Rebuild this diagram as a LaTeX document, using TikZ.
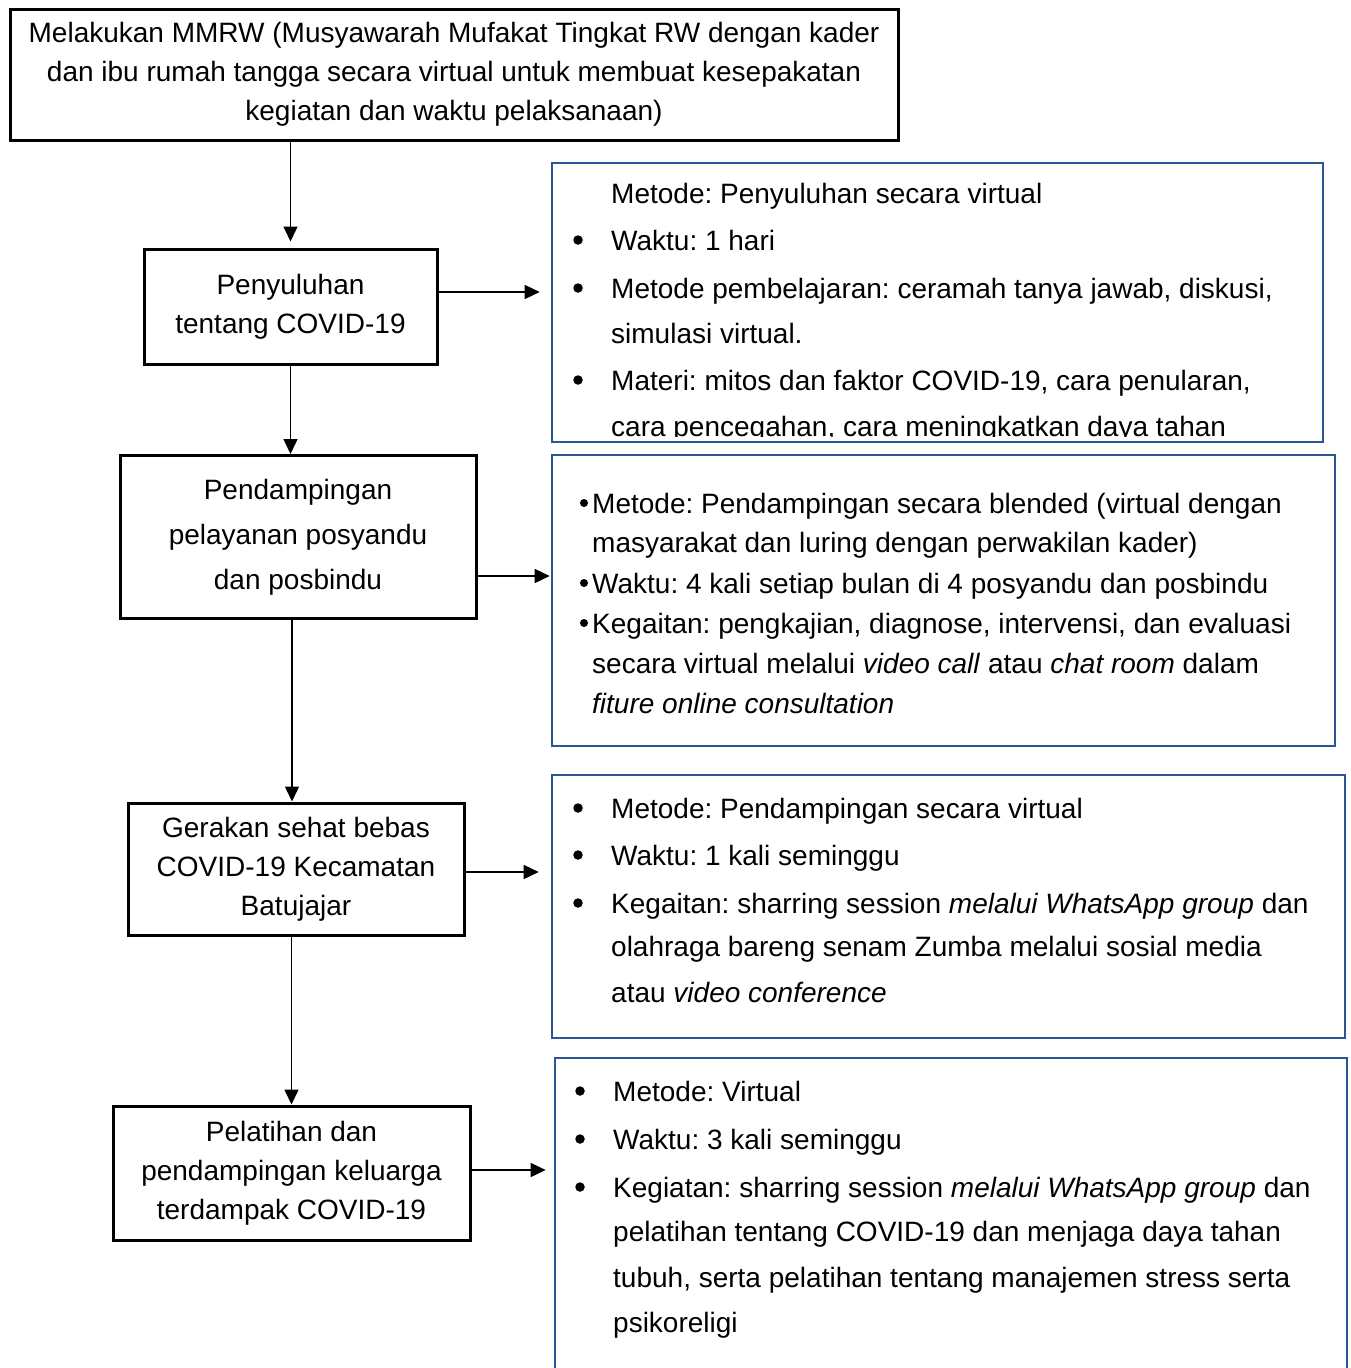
\documentclass[tikz,border=0pt]{standalone}
\usepackage{fontspec}
\setmainfont{Liberation Sans}
\usetikzlibrary{arrows.meta,calc}
\definecolor{boxblue}{RGB}{47,84,150}
\frenchspacing
\begin{document}
\begin{tikzpicture}[x=1pt,y=-1pt,
  flow/.style={draw=black,line width=3pt,align=center,inner sep=0pt,font=\fontsize{28}{39}\selectfont},
  info/.style={draw=boxblue,line width=2.6pt,inner sep=0pt},
  ln/.style={anchor=base west,inner sep=0pt,font=\fontsize{28}{34}\selectfont},
  bul/.style={circle,fill=black,inner sep=0pt,minimum size=9.5pt},
  sbul/.style={circle,fill=black,inner sep=0pt,minimum size=8pt},
  arr/.style={-{Triangle[length=15pt,width=14pt]},line width=1.5pt}]
\useasboundingbox (0,0) rectangle (1351,1368);
\fill[white] (0,0) rectangle (1351,1368);

% left column
\node[flow,minimum width=888pt,minimum height=131pt] (T) at (454,74.5)
 {Melakukan MMRW (Musyawarah Mufakat Tingkat RW dengan kader\\dan ibu rumah tangga secara virtual untuk membuat kesepakatan\\kegiatan dan waktu pelaksanaan)};
\node[flow,minimum width=293pt,minimum height=115pt] (A) at (290.5,306.5)
 {Penyuluhan\\tentang COVID-19};
\node[flow,minimum width=356pt,minimum height=163pt,font=\fontsize{28}{45}\selectfont] (B) at (298,537)
 {Pendampingan\\pelayanan posyandu\\dan posbindu};
\node[flow,minimum width=336pt,minimum height=132pt] (C) at (296,869)
 {Gerakan sehat bebas\\COVID-19 Kecamatan\\Batujajar};
\node[flow,minimum width=357pt,minimum height=134pt] (D) at (291.5,1173)
 {Pelatihan dan\\pendampingan keluarga\\terdampak COVID-19};

% right column boxes
\node[info,minimum width=771pt,minimum height=279pt] (R1) at (937.5,302.5) {};
\node[info,minimum width=783pt,minimum height=291pt] (R2) at (943.5,600.5) {};
\node[info,minimum width=793pt,minimum height=263pt] (R3) at (948.5,906.5) {};
\node[info,minimum width=792pt,minimum height=322pt] (R4) at (951,1219) {};

% R1 text (clipped)
\begin{scope}
\clip (552,163) rectangle (1323,436);
\node[ln] (r1a) at (611,203) {Metode: Penyuluhan secara virtual};
\node[bul] (b1b) at (578,240) {};
\node[ln] (r1b) at (611,250) {Waktu: 1 hari};
\node[bul] (b1c) at (578,288) {};
\node[ln] (r1c) at (611,298) {Metode pembelajaran: ceramah tanya jawab, diskusi,};
\node[ln] (r1d) at (611,343) {simulasi virtual.};
\node[bul] (b1e) at (578,380) {};
\node[ln] (r1e) at (611,390) {Materi: mitos dan faktor COVID-19, cara penularan,};
\node[ln] (r1f) at (611,436) {cara pencegahan, cara meningkatkan daya tahan};
\end{scope}

% R2 text
\node[sbul] (b2a) at (584,503) {};
\node[ln] (r2a) at (592,513) {Metode: Pendampingan secara blended (virtual dengan};
\node[ln] (r2b) at (592,552) {masyarakat dan luring dengan perwakilan kader)};
\node[sbul] (b2c) at (584,583) {};
\node[ln] (r2c) at (592,593) {Waktu: 4 kali setiap bulan di 4 posyandu dan posbindu};
\node[sbul] (b2d) at (584,623) {};
\node[ln] (r2d) at (592,633) {Kegaitan: pengkajian, diagnose, intervensi, dan evaluasi};
\node[ln] (r2e) at (592,673) {secara virtual melalui \textit{video call} atau \textit{chat room} dalam};
\node[ln] (r2f) at (592,713) {\textit{fiture online consultation}};

% R3 text
\node[bul] (b3a) at (578,808) {};
\node[ln] (r3a) at (611,818) {Metode: Pendampingan secara virtual};
\node[bul] (b3b) at (578,855) {};
\node[ln] (r3b) at (611,865) {Waktu: 1 kali seminggu};
\node[bul] (b3c) at (578,903) {};
\node[ln] (r3c) at (611,913) {Kegaitan: sharring session \textit{melalui WhatsApp group} dan};
\node[ln] (r3d) at (611,956) {olahraga bareng senam Zumba melalui sosial media};
\node[ln] (r3e) at (611,1002) {atau \textit{video conference}};

% R4 text
\node[bul] (b4a) at (580,1091) {};
\node[ln] (r4a) at (613,1101) {Metode: Virtual};
\node[bul] (b4b) at (580,1139) {};
\node[ln] (r4b) at (613,1149) {Waktu: 3 kali seminggu};
\node[bul] (b4c) at (580,1187) {};
\node[ln] (r4c) at (613,1197) {Kegiatan: sharring session \textit{melalui WhatsApp group} dan};
\node[ln] (r4d) at (613,1241) {pelatihan tentang COVID-19 dan menjaga daya tahan};
\node[ln] (r4e) at (613,1287) {tubuh, serta pelatihan tentang manajemen stress serta};
\node[ln] (r4f) at (613,1332) {psikoreligi};

% connectors
\coordinate (ay) at (0,292);
\coordinate (by) at (0,576);
\coordinate (cy) at (0,872);
\coordinate (dy) at (0,1170);
\coordinate (col) at (292,0);
\draw[arr,shorten >=6pt] (T.south -| A.north) -- (A.north);
\draw[arr] (A.south) -- (A.south |- B.north);
\draw[arr] (B.south -| col) -- (C.north -| col);
\draw[arr] (C.south -| D.north) -- (D.north);
\draw[arr,shorten >=11pt] (A.east |- ay) -- (R1.west |- ay);
\draw[arr,shorten >=1pt] (B.east |- by) -- (R2.west |- by);
\draw[arr,shorten >=12pt] (C.east |- cy) -- (R3.west |- cy);
\draw[arr,shorten >=8pt] (D.east |- dy) -- (R4.west |- dy);
\end{tikzpicture}
\end{document}
